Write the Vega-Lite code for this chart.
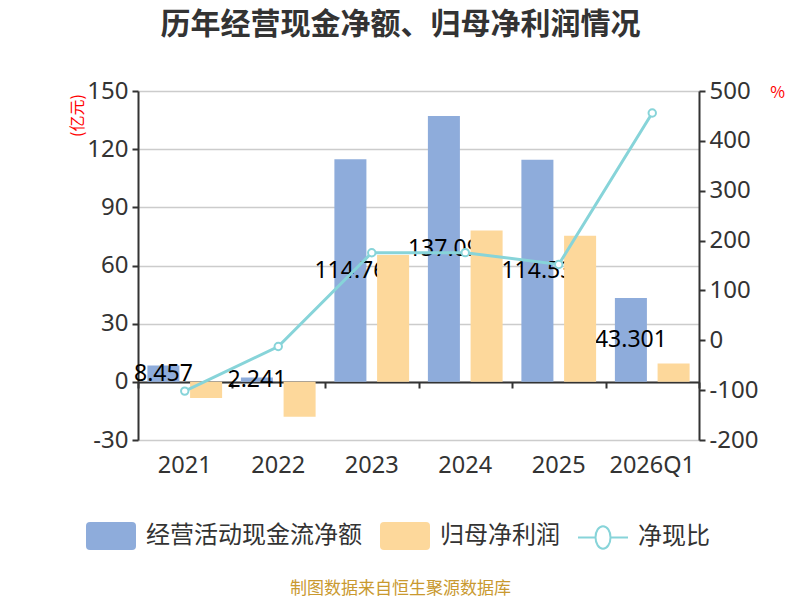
{
  "$schema": "https://vega.github.io/schema/vega-lite/v6.json",
  "width": 561,
  "height": 349,
  "autosize": {"type": "none"},
  "padding": {"left": 138, "top": 91, "right": 101, "bottom": 160},
  "background": "#ffffff",
  "title": {
    "text": "历年经营现金净额、归母净利润情况",
    "fontSize": 30,
    "fontWeight": "bold",
    "color": "#333333",
    "font": "Noto Sans CJK SC",
    "anchor": "middle",
    "dx": -18,
    "offset": 39
  },
  "datasets": {
    "amounts": [
      {"year": "2021", "series": "经营活动现金流净额", "value": 8.457},
      {"year": "2022", "series": "经营活动现金流净额", "value": 2.241},
      {"year": "2023", "series": "经营活动现金流净额", "value": 114.76},
      {"year": "2024", "series": "经营活动现金流净额", "value": 137.09},
      {"year": "2025", "series": "经营活动现金流净额", "value": 114.53},
      {"year": "2026Q1", "series": "经营活动现金流净额", "value": 43.301},
      {"year": "2021", "series": "归母净利润", "value": -8.3},
      {"year": "2022", "series": "归母净利润", "value": -18.0},
      {"year": "2023", "series": "归母净利润", "value": 65.4},
      {"year": "2024", "series": "归母净利润", "value": 78.0},
      {"year": "2025", "series": "归母净利润", "value": 75.3},
      {"year": "2026Q1", "series": "归母净利润", "value": 9.5}
    ],
    "ratio": [
      {"year": "2021", "ratio": -101.9},
      {"year": "2022", "ratio": -12.5},
      {"year": "2023", "ratio": 175.5},
      {"year": "2024", "ratio": 175.8},
      {"year": "2025", "ratio": 152.1},
      {"year": "2026Q1", "ratio": 455.8}
    ]
  },
  "layer": [
    {
      "data": {"name": "amounts"},
      "transform": [{"filter": "datum.series === '经营活动现金流净额'"}],
      "mark": {"type": "bar", "color": "#8eacdb"},
      "encoding": {
        "x": {
          "field": "year", "type": "nominal",
          "scale": {"type": "band", "domain": ["2021", "2022", "2023", "2024", "2025", "2026Q1"], "paddingInner": 0, "paddingOuter": 0},
          "axis": {
            "orient": "bottom", "offset": -58, "labels": false, "title": null, "grid": false,
            "domain": true, "domainColor": "#333333", "domainWidth": 2,
            "ticks": true, "tickBand": "extent", "tickSize": 6, "tickColor": "#333333", "tickWidth": 2
          }
        },
        "xOffset": {
          "field": "series", "type": "nominal",
          "scale": {"domain": ["经营活动现金流净额", "归母净利润"], "paddingInner": 0.25, "paddingOuter": 0.22}
        },
        "y": {
          "field": "value", "type": "quantitative",
          "scale": {"domain": [-30, 150], "nice": false, "zero": false},
          "axis": {
            "orient": "left",
            "values": [-30, 0, 30, 60, 90, 120, 150],
            "labelExpr": "datum.value + ''",
            "grid": true, "gridColor": "#cccccc", "gridWidth": 1.5,
            "domainColor": "#333333", "domainWidth": 2,
            "tickColor": "#333333", "tickWidth": 2, "tickSize": 6,
            "labelFont": "Noto Sans", "labelFontSize": 24, "labelColor": "#333333", "labelPadding": 4,
            "title": "(亿元)", "titleColor": "#ff0000", "titleFontSize": 16, "titleFontWeight": "normal",
            "titleAngle": -90, "titleX": -61, "titleY": 24, "titleAlign": "center", "titleBaseline": "middle"
          }
        },
        "color": {
          "field": "series", "type": "nominal",
          "scale": {"domain": ["经营活动现金流净额", "归母净利润", "净现比"], "range": ["#8eacdb", "#fdd89b", "#ffffff"]},
          "legend": {
            "orient": "none", "legendX": -53, "legendY": 419,
            "direction": "horizontal", "title": null,
            "labelFontSize": 24, "labelColor": "#333333", "labelFont": "Noto Sans CJK SC", "labelLimit": 400,
            "symbolSize": 2500, "labelOffset": 9, "columnPadding": 14,
            "encode": {
              "symbols": {
                "update": {
                  "shape": [
                    {"test": "datum.value === '净现比'", "value": "M-1,0L-0.3,0M0.3,0L1,0M-0.3,0A0.3,0.45,0,1,1,0.3,0A0.3,0.45,0,1,1,-0.3,0Z"},
                    {"value": "M-0.84,-0.56L0.84,-0.56Q1,-0.56,1,-0.4L1,0.4Q1,0.56,0.84,0.56L-0.84,0.56Q-1,0.56,-1,0.4L-1,-0.4Q-1,-0.56,-0.84,-0.56Z"}
                  ],
                  "stroke": [
                    {"test": "datum.value === '净现比'", "value": "#87d4d9"},
                    {"value": "transparent"}
                  ],
                  "strokeWidth": {"value": 2},
                  "opacity": {"value": 1}
                }
              }
            }
          }
        }
      }
    },
    {
      "data": {"name": "amounts"},
      "transform": [{"filter": "datum.series === '经营活动现金流净额'"}],
      "mark": {"type": "text", "fontSize": 23, "color": "#000000", "align": "center", "baseline": "middle", "font": "Noto Sans"},
      "encoding": {
        "x": {"field": "year", "type": "nominal", "scale": {"type": "band"}, "axis": null},
        "xOffset": {"field": "series", "type": "nominal"},
        "y": {"field": "value", "type": "quantitative", "scale": {"domain": [-60, 300], "nice": false, "zero": false}, "axis": null},
        "text": {"field": "value", "type": "nominal"}
      }
    },
    {
      "data": {"name": "amounts"},
      "transform": [{"filter": "datum.series === '归母净利润'"}],
      "mark": {"type": "bar", "color": "#fdd89b"},
      "encoding": {
        "x": {"field": "year", "type": "nominal", "scale": {"type": "band"}, "axis": null},
        "xOffset": {"field": "series", "type": "nominal"},
        "y": {"field": "value", "type": "quantitative", "scale": {"domain": [-30, 150], "nice": false, "zero": false}, "axis": null}
      }
    },
    {
      "data": {"name": "ratio"},
      "mark": {"type": "line", "color": "#87d4d9", "strokeWidth": 3},
      "encoding": {
        "x": {
          "field": "year", "type": "nominal", "scale": {"type": "band"},
          "axis": {
            "orient": "bottom", "domain": false, "ticks": false, "grid": false,
            "labelPadding": 13, "labelFont": "Noto Sans", "labelFontSize": 23.5, "labelColor": "#333333", "labelAngle": 0,
            "title": "制图数据来自恒生聚源数据库", "titleColor": "#c9992f", "titleFontSize": 17, "titleFontWeight": "normal",
            "titleX": 262, "titleY": 148, "titleAlign": "center", "titleBaseline": "middle"
          }
        },
        "y": {
          "field": "ratio", "type": "quantitative",
          "scale": {"domain": [-200, 500], "nice": false, "zero": false},
          "axis": {
            "orient": "right",
            "values": [-200, -100, 0, 100, 200, 300, 400, 500],
            "labelExpr": "datum.value + ''",
            "grid": false,
            "domainColor": "#333333", "domainWidth": 2,
            "tickColor": "#333333", "tickWidth": 2, "tickSize": 6,
            "labelFont": "Noto Sans", "labelFontSize": 24, "labelColor": "#333333", "labelPadding": 4,
            "title": "%", "titleColor": "#ff0000", "titleFontSize": 16, "titleFontWeight": "normal",
            "titleAngle": 0, "titleX": 78, "titleY": 1, "titleAlign": "center", "titleBaseline": "middle"
          }
        }
      }
    },
    {
      "data": {"name": "ratio"},
      "mark": {"type": "point", "filled": true, "fill": "#ffffff", "stroke": "#87d4d9", "strokeWidth": 2, "size": 55, "opacity": 1},
      "encoding": {
        "x": {"field": "year", "type": "nominal", "scale": {"type": "band"}, "axis": null},
        "y": {"field": "ratio", "type": "quantitative", "scale": {"domain": [-200, 500], "nice": false, "zero": false}, "axis": null}
      }
    }
  ],
  "resolve": {"scale": {"y": "independent"}, "axis": {"x": "independent"}},
  "config": {
    "font": "Noto Sans CJK SC",
    "view": {"stroke": null},
    "axis": {"labelFont": "Noto Sans CJK SC", "titleFont": "Noto Sans CJK SC"}
  }
}
